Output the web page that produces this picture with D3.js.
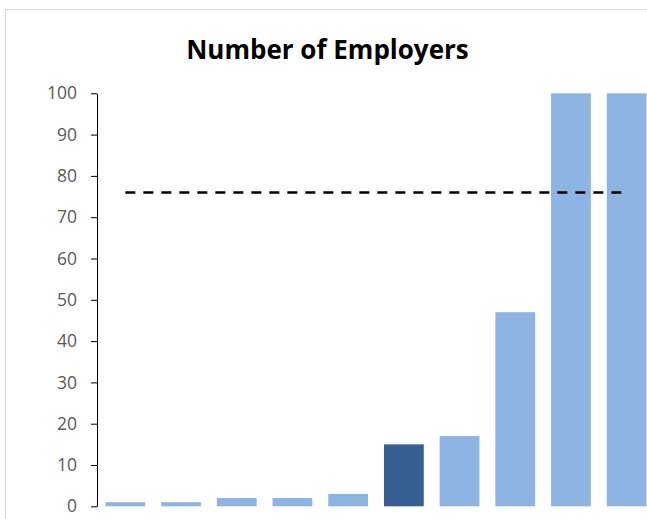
<!DOCTYPE html>
<html>
<head>
<meta charset="utf-8">
<script src="https://cdn.jsdelivr.net/npm/d3@7"></script>
<style>
  html, body { margin: 0; padding: 0; background: #fff; overflow: hidden; }
  svg { display: block; }
</style>
</head>
<body>
<script>
// Employer counts per group; the highlighted group is drawn in a darker blue.
const categories = ["G1", "G2", "G3", "G4", "G5", "G6", "G7", "G8", "G9", "G10"];
const employerCounts = [1, 1, 2, 2, 3, 15, 17, 47, 100, 100];
const highlighted = ["G6"];
const referenceLevel = 76;
const yTicks = [0, 10, 20, 30, 40, 50, 60, 70, 80, 90, 100];
const chartTitle = "Number of Employers";

const width = 647, height = 519;
const svg = d3.select("body").append("svg")
  .attr("width", width)
  .attr("height", height);

// Chart frame (continues past the visible window on the right and bottom)
svg.append("rect")
  .attr("x", 5.5).attr("y", 9.5)
  .attr("width", 700).attr("height", 600)
  .attr("fill", "none")
  .attr("stroke", "#d9d9d9")
  .attr("stroke-width", 1);

const plot = { left: 97.5, right: 654.5, top: 93.3, bottom: 506.3 };

const x = d3.scaleBand()
  .domain(categories)
  .range([plot.left, plot.right])
  .paddingInner(0.2857)
  .paddingOuter(0.1428);

const y = d3.scaleLinear()
  .domain([0, 100])
  .range([plot.bottom, plot.top]);

// Title
svg.append("text")
  .attr("x", 327.5)
  .attr("y", 59)
  .attr("text-anchor", "middle")
  .attr("font-family", "'Open Sans', sans-serif")
  .attr("font-weight", "bold")
  .attr("font-size", 26)
  .attr("fill", "#000")
  .text(chartTitle);

// Bars
svg.append("g")
  .selectAll("rect")
  .data(categories.map((c, i) => ({ cat: c, value: employerCounts[i] })))
  .join("rect")
  .attr("x", d => x(d.cat))
  .attr("width", x.bandwidth())
  .attr("y", d => y(d.value))
  .attr("height", d => y(0) - y(d.value))
  .attr("fill", d => highlighted.includes(d.cat) ? "#376092" : "#8eb4e3");

// Reference level (dashed)
const refLine = d3.line()
  .x(d => x(d) + x.bandwidth() / 2)
  .y(() => y(referenceLevel));
svg.append("path")
  .datum([categories[0], categories[categories.length - 1]])
  .attr("d", refLine)
  .attr("fill", "none")
  .attr("stroke", "#000")
  .attr("stroke-width", 2.5)
  .attr("stroke-dasharray", "10,8");

// Y axis
const yAxis = svg.append("g")
  .attr("transform", `translate(${plot.left - 0.5},0)`)
  .call(d3.axisLeft(y).tickValues(yTicks).tickSize(6).tickPadding(14).tickSizeOuter(0));
yAxis.select(".domain").attr("stroke", "#000").attr("stroke-width", 1);
yAxis.selectAll(".tick line").attr("stroke", "#000");
yAxis.selectAll(".tick text")
  .attr("font-family", "'Open Sans', sans-serif")
  .attr("font-size", 17.5)
  .attr("fill", "#595959");
</script>
</body>
</html>
